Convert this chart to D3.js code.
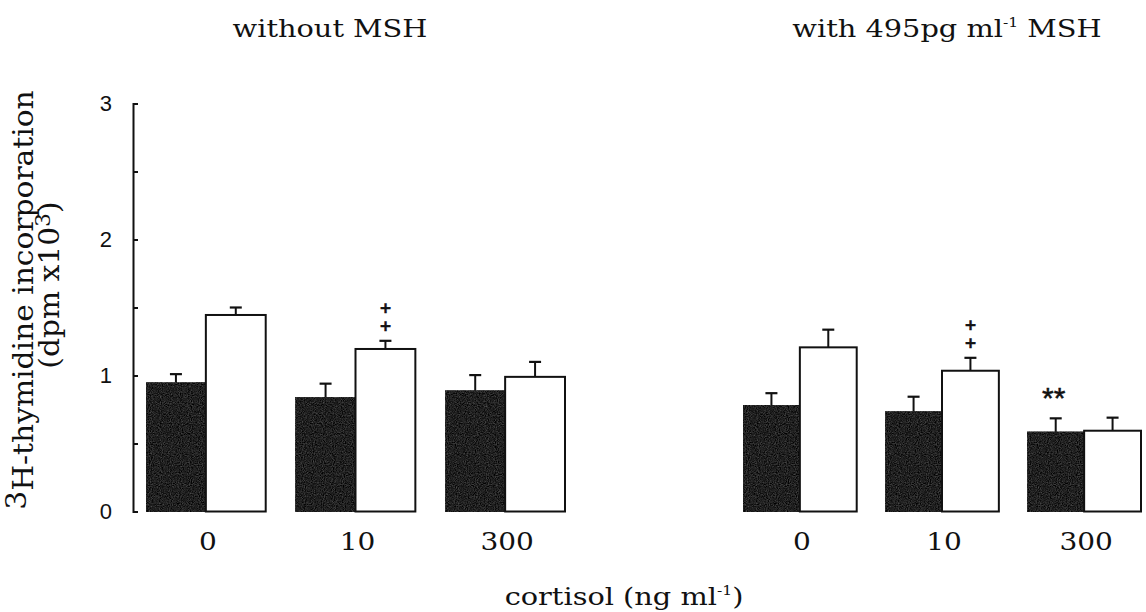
<!DOCTYPE html>
<html>
<head>
<meta charset="utf-8">
<script src="https://cdn.jsdelivr.net/npm/d3@7"></script>
<style>
  html, body { margin: 0; padding: 0; background: #fff; }
  svg { display: block; }
  .serif { font-family: "DejaVu Serif", "Liberation Serif", serif; fill: #111; }
  .sans { font-family: "Liberation Sans", Arial, sans-serif; fill: #111; }
</style>
</head>
<body>
<svg id="chart" width="1146" height="612"></svg>
<script>
// cortisol concentrations (ng/ml)
const doses = ["0", "10", "300"];
// bar series: dark = control, light = treated
const seriesKeys = ["dark", "light"];

// without MSH: means and SE (dpm x10^3)
const noMshDark = [0.947, 0.84, 0.888];
const noMshDarkSE = [0.063, 0.10, 0.115];
const noMshLight = [1.445, 1.195, 0.99];
const noMshLightSE = [0.055, 0.06, 0.11];

// with 495 pg/ml MSH
const mshDark = [0.78, 0.734, 0.585];
const mshDarkSE = [0.09, 0.11, 0.10];
const mshLight = [1.207, 1.035, 0.594];
const mshLightSE = [0.13, 0.095, 0.096];

// significance marks: [dose, series, symbol lines]
const noMshMarks = [["10", "light", ["+", "+"]]];
const mshMarks = [["10", "light", ["+", "+"]], ["300", "dark", ["**"]]];

const yTicks = [0, 0.5, 1, 1.5, 2, 2.5, 3];

const svg = d3.select("#chart");
svg.append("rect").attr("width", 1146).attr("height", 612).attr("fill", "#fff");

// speckled dark fill for the control bars
const defs = svg.append("defs");
const grain = defs.append("filter").attr("id", "grain")
  .attr("x", 0).attr("y", 0).attr("width", 1).attr("height", 1)
  .attr("color-interpolation-filters", "sRGB");
grain.append("feTurbulence").attr("type", "fractalNoise")
  .attr("baseFrequency", 0.9).attr("numOctaves", 2).attr("seed", 4).attr("result", "noise");
grain.append("feColorMatrix").attr("in", "noise").attr("type", "matrix")
  .attr("values", "0.45 0 0 0 -0.1  0.45 0 0 0 -0.1  0.45 0 0 0 -0.1  0 0 0 0 1")
  .attr("result", "speckle");
grain.append("feComposite").attr("in", "speckle").attr("in2", "SourceGraphic").attr("operator", "in");

const y = d3.scaleLinear().domain([0, 3]).range([511.5, 103.5]);

// y axis: ticks point inward, labels on integer values only
const yAxis = d3.axisLeft(y)
  .tickValues(yTicks)
  .tickSizeInner(-5)
  .tickSizeOuter(-5)
  .tickPadding(21)
  .tickFormat(d => Number.isInteger(d) ? d : "");
const gy = svg.append("g").attr("transform", "translate(133,0)").call(yAxis);
gy.attr("font-size", null).attr("font-family", null);
gy.select(".domain").attr("stroke", "#111").attr("stroke-width", 2);
gy.selectAll(".tick line").attr("stroke", "#111").attr("stroke-width", 2);
gy.selectAll(".tick text")
  .attr("class", "sans")
  .style("font-size", "22px")
  .attr("fill", "#111");

function panel(range, dark, darkSE, light, lightSE, marks) {
  const x0 = d3.scaleBand().domain(doses).range(range).paddingInner(0.2).paddingOuter(0);
  const x1 = d3.scaleBand().domain(seriesKeys).range([0, x0.bandwidth()]).padding(0);
  const rows = doses.map((d, i) => ({
    dose: d,
    vals: [
      { key: "dark", v: dark[i], se: darkSE[i] },
      { key: "light", v: light[i], se: lightSE[i] }
    ]
  }));
  const g = svg.append("g");
  const grp = g.selectAll("g.grp").data(rows).join("g")
    .attr("transform", d => `translate(${x0(d.dose)},0)`);

  // error bars (upper half only)
  grp.selectAll("g.err").data(d => d.vals).join("g").each(function (d) {
    const cx = x1(d.key) + x1.bandwidth() / 2;
    const e = d3.select(this);
    e.append("line").attr("x1", cx).attr("x2", cx)
      .attr("y1", y(d.v)).attr("y2", y(d.v + d.se))
      .attr("stroke", "#111").attr("stroke-width", 2);
    e.append("line").attr("x1", cx - 6).attr("x2", cx + 6)
      .attr("y1", y(d.v + d.se)).attr("y2", y(d.v + d.se))
      .attr("stroke", "#111").attr("stroke-width", 2.2);
  });

  grp.selectAll("rect").data(d => d.vals).join("rect")
    .attr("x", d => x1(d.key))
    .attr("y", d => y(d.v))
    .attr("width", x1.bandwidth())
    .attr("height", d => y(0) - y(d.v))
    .attr("fill", d => d.key === "dark" ? "#1a1a1a" : "#fff")
    .attr("filter", d => d.key === "dark" ? "url(#grain)" : null)
    .attr("stroke", "#111")
    .attr("stroke-width", d => d.key === "dark" ? 1 : 2);

  // dose labels
  g.selectAll("text.dose").data(doses).join("text")
    .attr("class", "serif")
    .attr("transform", d => `translate(${x0(d) + x0.bandwidth() / 2 + 2},550) scale(1.12,1)`)
    .attr("text-anchor", "middle")
    .attr("font-size", 25)
    .text(d => d);

  // significance symbols above the error bars
  marks.forEach(([dose, key, lines]) => {
    const i = doses.indexOf(dose);
    const v = key === "dark" ? dark[i] + darkSE[i] : light[i] + lightSE[i];
    const cx = x0(dose) + x1(key) + x1.bandwidth() / 2;
    const top = y(v);
    if (lines[0] === "**") {
      g.append("text").attr("class", "sans")
        .attr("x", cx - 2).attr("y", top - 10)
        .attr("text-anchor", "middle").attr("font-size", 30)
        .attr("stroke", "#111").attr("stroke-width", 0.5)
        .text("**");
    } else {
      lines.forEach((s, k) => {
        g.append("text").attr("class", "serif")
          .attr("text-anchor", "middle").attr("font-size", 15)
          .attr("font-weight", "bold")
          .attr("stroke", "#111").attr("stroke-width", 0.6)
          .attr("x", cx)
          .attr("y", top - 10 - (lines.length - 1 - k) * 18)
          .text(s);
      });
    }
  });
}

panel([146, 565], noMshDark, noMshDarkSE, noMshLight, noMshLightSE, noMshMarks);
panel([743, 1141], mshDark, mshDarkSE, mshLight, mshLightSE, mshMarks);

// panel titles
svg.append("text").attr("class", "serif")
  .attr("transform", "translate(330,37) scale(1.2,1)")
  .attr("text-anchor", "middle").attr("font-size", 24)
  .text("without MSH");

const t2 = svg.append("text").attr("class", "serif")
  .attr("transform", "translate(947,37) scale(1.2,1)")
  .attr("text-anchor", "middle").attr("font-size", 24);
t2.append("tspan").text("with 495pg ml");
t2.append("tspan").attr("font-size", 13).attr("dy", -10).text("-1");
t2.append("tspan").attr("dy", 10).text(" MSH");

// x axis title
const xt = svg.append("text").attr("class", "serif")
  .attr("transform", "translate(624,605) scale(1.2,1)")
  .attr("text-anchor", "middle").attr("font-size", 24);
xt.append("tspan").text("cortisol (ng ml");
xt.append("tspan").attr("font-size", 13).attr("dy", -10).text("-1");
xt.append("tspan").attr("dy", 10).text(")");

// y axis title, two lines
const yl1 = svg.append("text").attr("class", "serif")
  .attr("transform", "translate(33,300) rotate(-90) scale(1.1,1)")
  .attr("text-anchor", "middle").attr("font-size", 27);
yl1.append("tspan").attr("dy", -7).text("3");
yl1.append("tspan").attr("dy", 7).text("H-thymidine incorporation");

const yl2 = svg.append("text").attr("class", "serif")
  .attr("transform", "translate(59,285) rotate(-90) scale(1.1,1)")
  .attr("text-anchor", "middle").attr("font-size", 27);
yl2.append("tspan").text("(dpm x10");
yl2.append("tspan").attr("font-size", 20).attr("dy", -9).text("3");
yl2.append("tspan").attr("dy", 9).text(")");
</script>
</body>
</html>
